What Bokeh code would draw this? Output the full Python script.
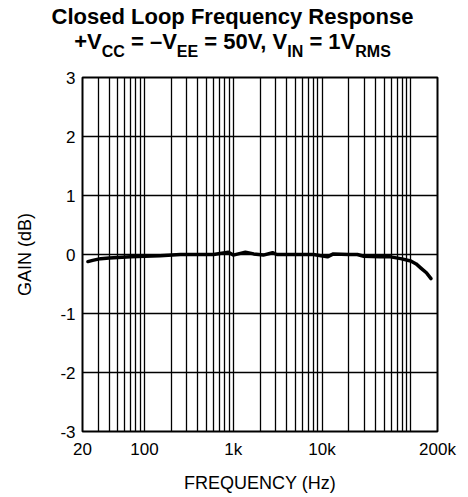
from bokeh.plotting import figure
from bokeh.layouts import column
from bokeh.models import FixedTicker, Range1d, Div
from bokeh.embed import file_html
from bokeh.resources import INLINE

# ---- data ----
freq_hz = [23, 26, 32, 40, 50, 70, 100, 150, 254, 400, 600, 880, 1000, 1370,
           1700, 2180, 2770, 3100, 5000, 8000, 11500, 13400, 20000, 25000,
           29500, 45000, 59000, 77000, 100000, 115000, 130000, 150000, 169000]
gain_db = [-0.12, -0.10, -0.07, -0.06, -0.05, -0.04, -0.03, -0.02, 0.0, 0.0,
           0.0, 0.04, -0.01, 0.04, 0.01, -0.01, 0.03, 0.0, 0.0, 0.0, -0.04,
           0.01, 0.0, 0.0, -0.03, -0.04, -0.04, -0.07, -0.11, -0.16, -0.23,
           -0.31, -0.41]

x_tick_values = [20, 100, 1000, 10000, 200000]
x_tick_labels = ["20", "100", "1k", "10k", "200k"]
x_grid_values = [20, 30, 40, 50, 60, 70, 80, 90, 100,
                 200, 300, 400, 500, 600, 700, 800, 900, 1000,
                 2000, 3000, 4000, 5000, 6000, 7000, 8000, 9000, 10000,
                 20000, 30000, 40000, 50000, 60000, 70000, 80000, 90000, 100000,
                 200000]
y_tick_values = [-3, -2, -1, 0, 1, 2, 3]
y_tick_labels = ["-3", "-2", "-1", "0", "1", "2", "3"]

title_line1 = "Closed Loop Frequency Response"
title_line2_parts = ["+V", "CC", " = \u2013V", "EE", " = 50V, V", "IN", " = 1V", "RMS"]
title_line2_is_sub = [False, True, False, True, False, True, False, True]
x_label = "FREQUENCY (Hz)"
y_label = "GAIN (dB)"

FONT = "Liberation Sans"
W, H = 468, 497
TITLE_H = 70
FL, FR, FT, FB = 82, 437, 77, 431

# ---- title (real text, HTML) ----
sub_style = "font-size:16px;position:relative;top:8px;line-height:0;"
line2 = "".join(
    f'<span style="{sub_style}">{txt}</span>' if sub else txt
    for txt, sub in zip(title_line2_parts, title_line2_is_sub))
title_div = Div(
    text=f"{title_line1}<br>{line2}",
    width=465, height=TITLE_H, margin=(0, 0, 0, 0),
    styles={"font-family": FONT, "font-size": "22px", "font-weight": "bold",
            "color": "black", "text-align": "center", "line-height": "25px",
            "padding-top": "4px", "box-sizing": "border-box",
            "white-space": "nowrap"})

# ---- main chart ----
p = figure(width=W, height=H - TITLE_H, x_axis_type="log",
           x_range=Range1d(20, 200000), y_range=Range1d(-3, 3),
           output_backend="svg", toolbar_location=None,
           min_border_left=FL, min_border_right=W - FR,
           min_border_top=FT - TITLE_H, min_border_bottom=H - FB)

p.background_fill_color = "white"
p.border_fill_color = "white"
p.outline_line_color = "black"
p.outline_line_width = 2

p.xaxis.ticker = FixedTicker(ticks=x_tick_values, minor_ticks=[])
p.xaxis.major_label_overrides = {v: l for v, l in zip(x_tick_values, x_tick_labels)}
p.yaxis.ticker = FixedTicker(ticks=y_tick_values, minor_ticks=[])
p.yaxis.major_label_overrides = {v: l for v, l in zip(y_tick_values, y_tick_labels)}

for ax in (p.xaxis, p.yaxis):
    ax.axis_line_color = None
    ax.major_tick_line_color = None
    ax.minor_tick_line_color = None
    ax.major_tick_out = 0
    ax.major_tick_in = 0
    ax.major_label_text_font = FONT
    ax.major_label_text_font_size = "17px"
    ax.major_label_text_color = "black"
    ax.axis_label_text_font = FONT
    ax.axis_label_text_font_size = "18px"
    ax.axis_label_text_font_style = "normal"
    ax.axis_label_text_color = "black"

p.xaxis.major_label_standoff = 8
p.yaxis.major_label_standoff = 7
p.xaxis.axis_label = x_label
p.yaxis.axis_label = y_label
p.xaxis.axis_label_standoff = 11
p.yaxis.axis_label_standoff = 22

p.xgrid.ticker = FixedTicker(ticks=x_grid_values)
p.ygrid.ticker = FixedTicker(ticks=y_tick_values)
for g in (p.xgrid, p.ygrid):
    g.grid_line_color = "black"
    g.grid_line_width = 1.3
    g.grid_line_alpha = 1.0

p.line(freq_hz, gain_db, line_color="black", line_width=3.5,
       line_join="round", line_cap="round")

open("out.html", "w").write(file_html(column(title_div, p, spacing=0), INLINE))
